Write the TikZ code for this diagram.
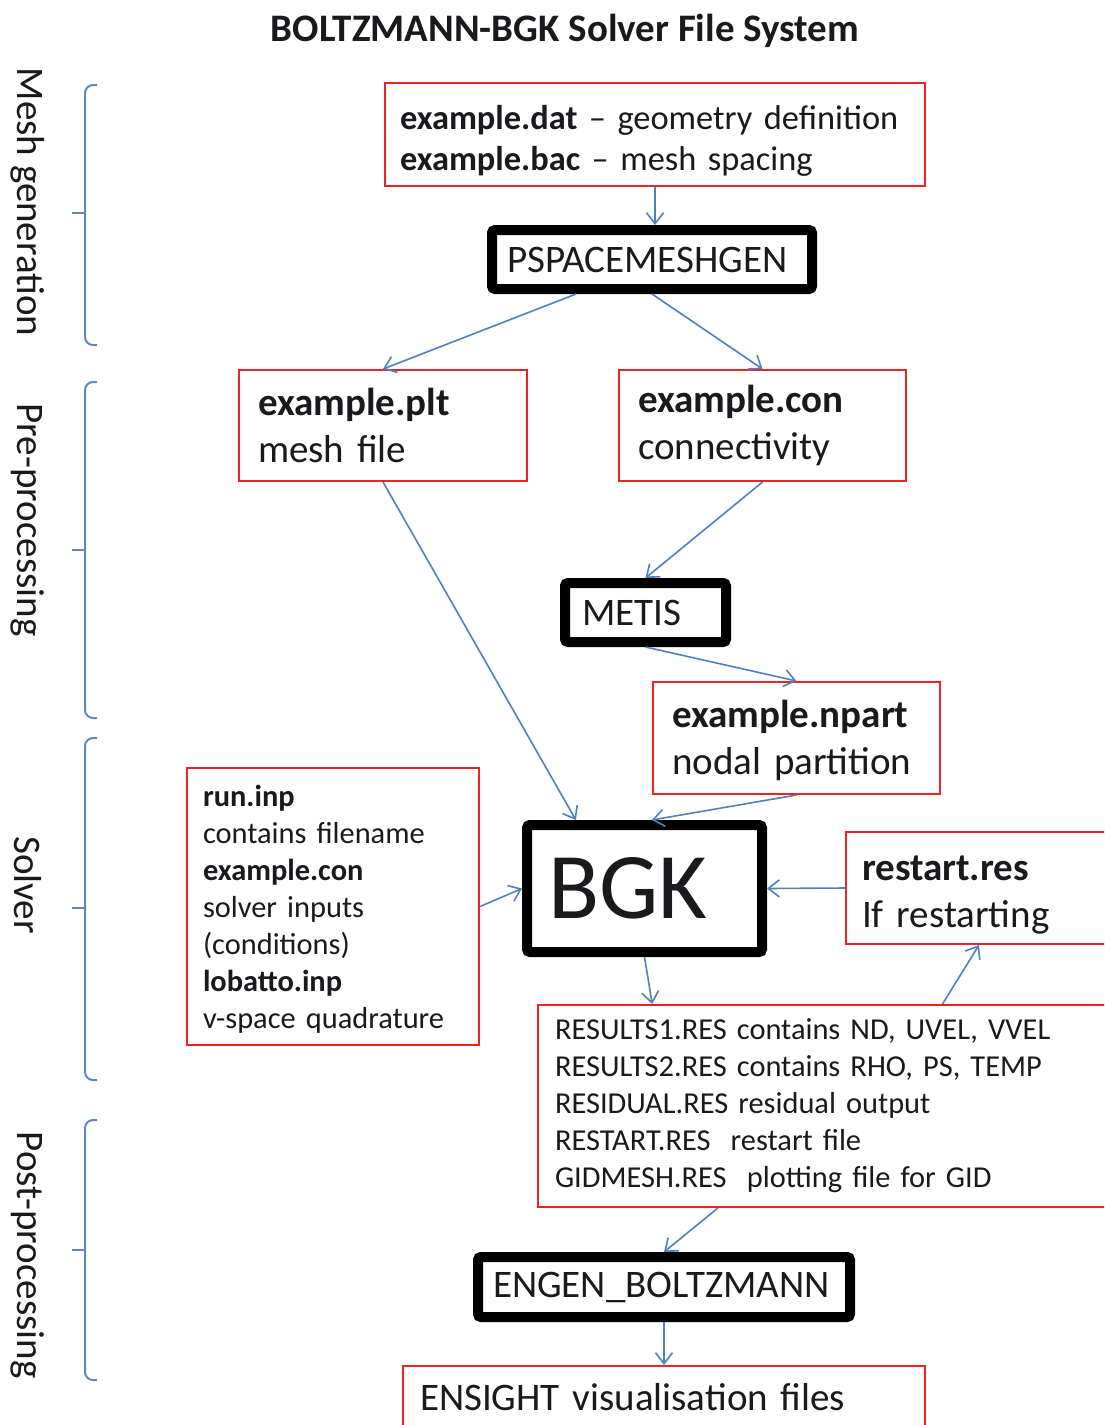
\documentclass[tikz,border=0pt]{standalone}
\usepackage{fontspec}
\setmainfont{Carlito}
\usetikzlibrary{arrows.meta,calc}
\definecolor{boxred}{RGB}{232,36,36}
\definecolor{linkblue}{RGB}{79,129,189}
\definecolor{bracecol}{RGB}{96,136,188}
\definecolor{ink}{RGB}{25,25,30}

\begin{document}
\begin{tikzpicture}[x=0.5pt,y=-0.5pt,
  filebox/.style={draw=boxred, line width=1pt, align=left, inner ysep=0pt, text=ink},
  progbox/.style={draw=black, line width=5pt, rounded corners=1.5pt, align=left, inner ysep=0pt, text=ink},
  link/.style={draw=linkblue, line width=0.8pt, -{Straight Barb[length=5.5pt,width=8.5pt]}},
  brace/.style={draw=bracecol, line width=1pt, rounded corners=4pt},
  sidelabel/.style={rotate=-90, font=\fontsize{19.5}{22}\selectfont, inner sep=0pt, text=ink},
  bigtext/.style={font=\fontsize{19.5}{23.5}\selectfont},
  smalltext/.style={font=\fontsize{15.2}{18.5}\selectfont},
]
\clip (0,0) rectangle (1104,1425);
\fill[white] (0,0) rectangle (1104,1425);

% title
\node[font=\bfseries\fontsize{19.5}{22}\selectfont, text=ink] (title) at (565,31) {BOLTZMANN-BGK Solver File System};

% stage labels
\node[sidelabel] (lmesh) at (28,202) {Mesh generation};
\node[sidelabel] (lpre)  at (28,520) {Pre-processing};
\node[sidelabel] (lsolv) at (28,885) {Solver};
\node[sidelabel] (lpost) at (28,1255) {Post-processing};

% stage braces
\draw[brace] (97,85) -- (85,85) -- (85,345) -- (97,345);
\draw[brace] (72,213) -- (85,213);
\draw[brace] (97,382) -- (85,382) -- (85,718) -- (97,718);
\draw[brace] (72,550) -- (85,550);
\draw[brace] (97,738) -- (85,738) -- (85,1080) -- (97,1080);
\draw[brace] (72,908) -- (85,908);
\draw[brace] (97,1120) -- (85,1120) -- (85,1380) -- (97,1380);
\draw[brace] (72,1250) -- (85,1250);

% input / output files
\node[filebox, minimum width=270pt, minimum height=51.5pt, inner xsep=7.5pt, text width=255pt,
      text height=18pt, font=\fontsize{17.2}{20.5}\selectfont] (dat) at (655,134.5)
  {\textbf{example.dat} -- geometry definition\\\textbf{example.bac} -- mesh spacing};

\node[filebox, bigtext, minimum width=144pt, minimum height=55.5pt, inner xsep=9.5pt, text width=125pt] (plt) at (383,425.5)
  {\textbf{example.plt}\\mesh file};

\node[filebox, bigtext, minimum width=143.5pt, minimum height=55.5pt, inner xsep=9.5pt, text width=124.5pt] (con) at (762.5,425.5)
  {\textbf{example.con}\\connectivity};

\node[filebox, bigtext, minimum width=143.5pt, minimum height=56pt, inner xsep=9.5pt, text width=124.5pt,
      text height=16.5pt] (npart) at (796.5,738)
  {\textbf{example.npart}\\nodal partition};

\node[filebox, smalltext, minimum width=146pt, minimum height=138.5pt, inner xsep=8pt, text width=130pt,
      text height=13.5pt] (run) at (333,906.5)
  {\textbf{run.inp}\\contains filename\\\textbf{example.con}\\solver inputs\\(conditions)\\\textbf{lobatto.inp}\\v-space quadrature};

\node[filebox, bigtext, minimum width=133pt, minimum height=56pt, inner xsep=8pt, text width=117pt,
      text height=19pt] (restart) at (979,888)
  {\textbf{restart.res}\\If restarting};

\node[filebox, smalltext, minimum width=287pt, minimum height=101pt, inner xsep=8.5pt, text width=270pt] (results) at (825,1106)
  {RESULTS1.RES contains ND, UVEL, VVEL\\RESULTS2.RES contains RHO, PS, TEMP\\RESIDUAL.RES residual output\\RESTART.RES\ \ restart file\\GIDMESH.RES\ \ plotting file for GID};

\node[filebox, bigtext, minimum width=261pt, minimum height=31pt, inner xsep=8.5pt, text width=244pt] (ensight) at (664,1397)
  {ENSIGHT visualisation files};

% programs
\node[progbox, bigtext, minimum width=160pt, minimum height=29.5pt, inner xsep=7.5pt, text width=145pt] (pspace) at (652,259.5)
  {PSPACEMESHGEN};

\node[progbox, bigtext, minimum width=80.5pt, minimum height=29.5pt, inner xsep=8.5pt, text width=63.5pt] (metis) at (645.5,612.5)
  {METIS};

\node[progbox, font=\fontsize{47}{50}\selectfont, minimum width=117.5pt, minimum height=63.5pt, inner xsep=10.5pt, text width=96.5pt] (bgk) at (644.5,888.5)
  {BGK};

\node[progbox, bigtext, minimum width=186pt, minimum height=30pt, inner xsep=7.5pt, text width=171pt] (engen) at (664,1287)
  {ENGEN\_BOLTZMANN};

% data flow
\draw[link] (dat.south) -- (dat.south |- pspace.north);
\draw[link] ($(pspace.south west)!0.27!(pspace.south east)$) -- (plt.north);
\draw[link] (pspace.south) -- (con.north);
\draw[link] (plt.south) -- ($(bgk.north west)!0.22!(bgk.north east)$);
\draw[link] (con.south) -- (metis.north);
\draw[link] (metis.south) -- (npart.north);
\draw[link] (npart.south) -- ($(bgk.north west)!0.53!(bgk.north east)$);
\draw[link] (run.east) -- (bgk.west);
\draw[link] (restart.west) -- (bgk.east);
\draw[link] (bgk.south) -- ($(results.north west)!0.2!(results.north east)$);
\draw[link] ($(results.north west)!0.704!(results.north east)$) -- (restart.south);
\draw[link] ($(results.south west)!0.314!(results.south east)$) -- (engen.north);
\draw[link] (engen.south) -- (ensight.north);
\end{tikzpicture}
\end{document}
